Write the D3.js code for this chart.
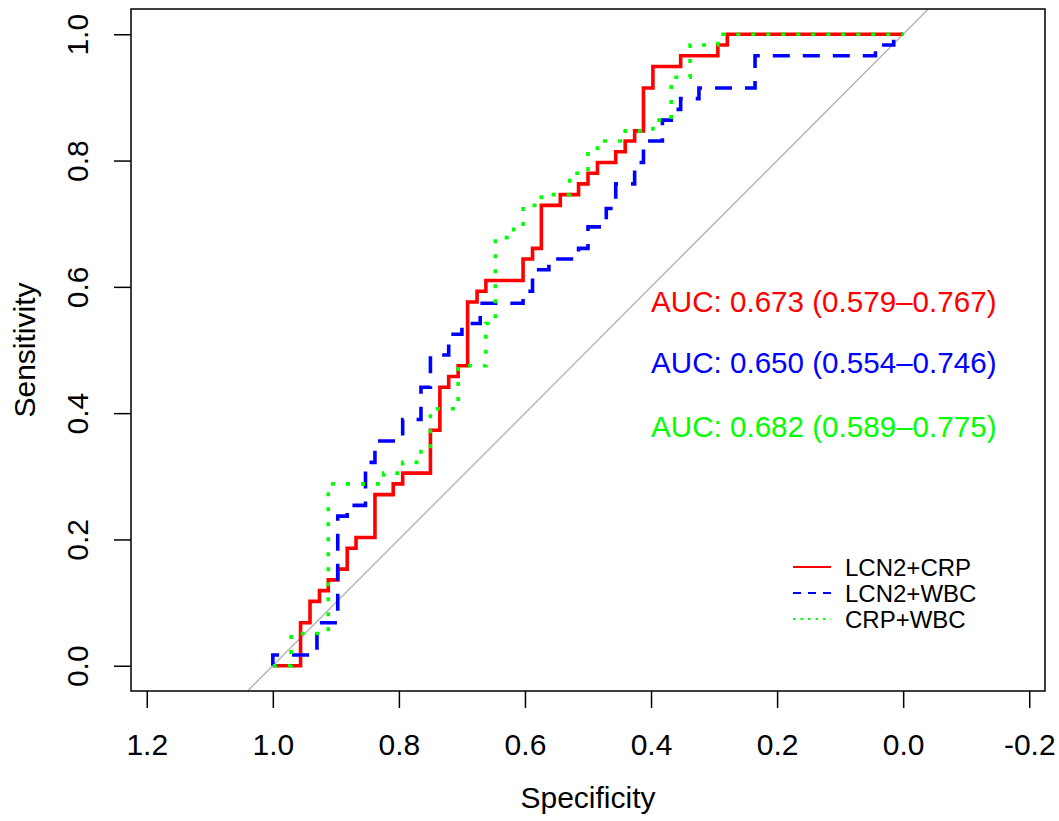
<!DOCTYPE html>
<html>
<head>
<meta charset="utf-8">
<script src="https://cdn.jsdelivr.net/npm/d3@7"></script>
<style>
  body { margin: 0; background: #fff; }
  svg { display: block; }
  text { font-family: "Liberation Sans", Arial, Helvetica, sans-serif; }
</style>
</head>
<body>
<svg id="chart" width="1059" height="821"></svg>
<script>
// ---- data -------------------------------------------------------------
const xTickValues = [1.2, 1.0, 0.8, 0.6, 0.4, 0.2, 0.0, -0.2];
const yTickValues = [0.0, 0.2, 0.4, 0.6, 0.8, 1.0];
const seriesNames = ["LCN2+CRP", "LCN2+WBC", "CRP+WBC"];
const aucLabels = [
  "AUC: 0.673 (0.579\u20130.767)",
  "AUC: 0.650 (0.554\u20130.746)",
  "AUC: 0.682 (0.589\u20130.775)"
];

// ROC points (specificity, sensitivity); the curve steps horizontally then vertically
const crpSpec = [1, 0.956, 0.941, 0.926, 0.912, 0.897, 0.882, 0.868, 0.838, 0.809, 0.794, 0.750,
  0.735, 0.721, 0.706, 0.691, 0.676, 0.662, 0.603, 0.588, 0.574, 0.544, 0.515, 0.500, 0.485,
  0.456, 0.441, 0.426, 0.412, 0.397, 0.353, 0.294, 0.279, 0];
const crpSens = [0, 0.068, 0.102, 0.119, 0.136, 0.153, 0.186, 0.203, 0.271, 0.288, 0.305, 0.373,
  0.441, 0.458, 0.475, 0.576, 0.593, 0.610, 0.644, 0.661, 0.729, 0.746, 0.763, 0.780, 0.797,
  0.814, 0.831, 0.847, 0.915, 0.949, 0.966, 0.983, 1, 1];

const wbcSpec = [1, 1, 0.930, 0.897, 0.882, 0.853, 0.838, 0.794, 0.765, 0.750, 0.721, 0.700,
  0.671, 0.603, 0.588, 0.562, 0.515, 0.500, 0.471, 0.456, 0.426, 0.412, 0.382, 0.368, 0.353,
  0.324, 0.235, 0.044, 0.015, 0];
const wbcSens = [0, 0.017, 0.068, 0.237, 0.254, 0.322, 0.356, 0.390, 0.441, 0.492, 0.525, 0.542,
  0.574, 0.593, 0.627, 0.644, 0.661, 0.695, 0.724, 0.763, 0.797, 0.831, 0.864, 0.881, 0.898,
  0.915, 0.966, 0.983, 1, 1];

const crpWbcSpec = [1, 0.971, 0.912, 0.824, 0.794, 0.765, 0.750, 0.706, 0.662, 0.647, 0.618,
  0.603, 0.574, 0.529, 0.500, 0.485, 0.441, 0.397, 0.368, 0.338, 0.294, 0];
const crpWbcSens = [0, 0.051, 0.288, 0.305, 0.322, 0.339, 0.407, 0.475, 0.542, 0.678, 0.695,
  0.729, 0.746, 0.780, 0.814, 0.831, 0.847, 0.864, 0.932, 0.983, 1, 1];

const seriesSpec = [crpSpec, wbcSpec, crpWbcSpec];
const seriesSens = [crpSens, wbcSens, crpWbcSens];

// ---- styling ----------------------------------------------------------
const colors = ["#ff0000", "#0000ff", "#00ff00"];
const curveDash = [null, "17,13", "4,11"];
const legendDash = [null, "8,7", "2.5,5"];

const box = { left: 131, right: 1045, top: 9, bottom: 691 };
const svg = d3.select("#chart");

const x = d3.scaleLinear().domain([1.225, -0.225]).range([box.left, box.right]);
const y = d3.scaleLinear().domain([-0.04, 1.04]).range([box.bottom, box.top]);

const fmt = d => d.toFixed(1);

// x axis
const xAxis = svg.append("g")
  .attr("transform", `translate(0,${box.bottom})`)
  .call(d3.axisBottom(x).tickValues(xTickValues).tickSize(17).tickFormat(fmt));
xAxis.select(".domain").remove();
xAxis.selectAll(".tick line").attr("stroke", "#000").attr("stroke-width", 1.5);
xAxis.selectAll(".tick text")
  .attr("y", 64).attr("dy", null)
  .attr("fill", "#000")
  .style("font-size", "30px");

// y axis
const yAxis = svg.append("g")
  .attr("transform", `translate(${box.left},0)`)
  .call(d3.axisLeft(y).tickValues(yTickValues).tickSize(17).tickFormat(fmt));
yAxis.select(".domain").remove();
yAxis.selectAll(".tick line").attr("stroke", "#000").attr("stroke-width", 1.5);
yAxis.selectAll(".tick text")
  .attr("x", null).attr("y", null).attr("dy", null)
  .attr("text-anchor", "middle")
  .attr("transform", "translate(-43,0) rotate(-90)")
  .attr("fill", "#000")
  .style("font-size", "30px");

// axis titles
svg.append("text")
  .attr("x", (box.left + box.right) / 2).attr("y", 808)
  .attr("text-anchor", "middle").style("font-size", "30px")
  .text("Specificity");
svg.append("text")
  .attr("transform", `translate(35,${(box.top + box.bottom) / 2}) rotate(-90)`)
  .attr("text-anchor", "middle").style("font-size", "30px")
  .text("Sensitivity");

// chance diagonal: sensitivity = 1 - specificity across the full y range
const yDom = y.domain();
svg.append("line")
  .attr("x1", x(1 - yDom[0])).attr("y1", y(yDom[0]))
  .attr("x2", x(1 - yDom[1])).attr("y2", y(yDom[1]))
  .attr("stroke", "#b4b4b4").attr("stroke-width", 1.4);

// ROC curves
const line = d3.line()
  .x(d => x(d[0])).y(d => y(d[1]))
  .curve(d3.curveStepAfter);

seriesSpec.forEach((spec, i) => {
  const pts = spec.map((s, j) => [s, seriesSens[i][j]]);
  svg.append("path")
    .datum(pts)
    .attr("d", line)
    .attr("fill", "none")
    .attr("stroke", colors[i])
    .attr("stroke-width", 3.6)
    .attr("stroke-dasharray", curveDash[i]);
});

// AUC annotations
const aucBaseline = [0.56, 0.463, 0.362];
aucLabels.forEach((t, i) => {
  svg.append("text")
    .attr("x", x(0.4)).attr("y", y(aucBaseline[i]))
    .attr("fill", colors[i])
    .style("font-size", "29.6px")
    .text(t);
});

// legend
const legendRowY = [567, 593, 619];
const legend = svg.append("g");
seriesNames.forEach((name, i) => {
  legend.append("line")
    .attr("x1", 793).attr("x2", 831)
    .attr("y1", legendRowY[i]).attr("y2", legendRowY[i])
    .attr("stroke", colors[i]).attr("stroke-width", 2)
    .attr("stroke-dasharray", legendDash[i]);
  legend.append("text")
    .attr("x", 845).attr("y", legendRowY[i] + 9)
    .attr("fill", "#000")
    .style("font-size", "24px")
    .text(name);
});

// plot frame
svg.append("rect")
  .attr("x", box.left).attr("y", box.top)
  .attr("width", box.right - box.left).attr("height", box.bottom - box.top)
  .attr("fill", "none").attr("stroke", "#000").attr("stroke-width", 1.5);
</script>
</body>
</html>
